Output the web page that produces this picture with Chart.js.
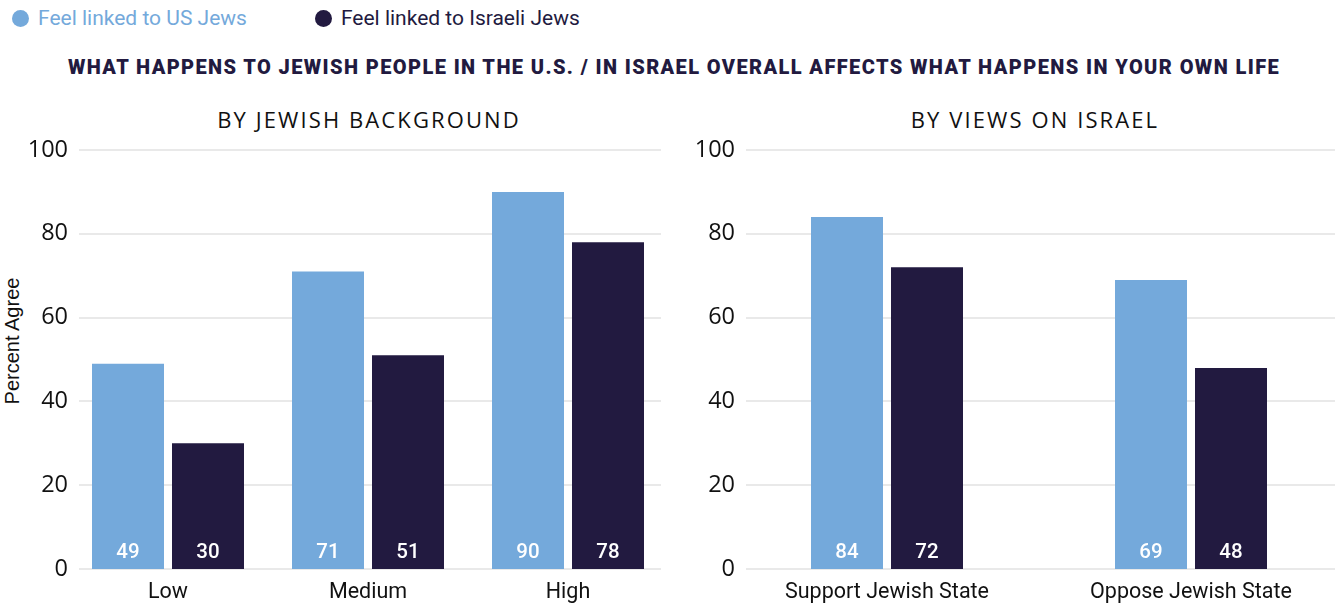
<!DOCTYPE html>
<html>
<head>
<meta charset="utf-8">
<script src="https://cdn.jsdelivr.net/npm/chart.js@4"></script>
<style>
  html, body { margin: 0; padding: 0; background: #fff; overflow: hidden; width: 1335px; height: 606px; }
  .legend { position: absolute; top: 6px; left: 12px; font: 21px Roboto, sans-serif; display: flex; }
  .legend span { display: inline-flex; align-items: center; }
  .legend i { display: inline-block; width: 17px; height: 17px; border-radius: 50%; margin-right: 9px; }
  .title { position: absolute; top: 57px; left: 0; width: 1348px; text-align: center; font: 900 20px/20px Roboto, sans-serif; letter-spacing: 1.4px; color: #221a40; }
  .sub { position: absolute; top: 104px; width: 600px; text-align: center; font: 22px "Open Sans", sans-serif; letter-spacing: 2.1px; color: #111; }
  .ytitle { position: absolute; left: 12px; top: 341px; transform: translate(-50%, -50%) rotate(-90deg); font: 20px/20px "Liberation Sans", sans-serif; color: #111; white-space: nowrap; }
  canvas { position: absolute; top: 100px; }
</style>
</head>
<body>
<div class="legend">
  <span style="color:#74a9db"><i style="background:#74a9db"></i>Feel linked to US Jews</span>
  <span style="color:#221a40; margin-left:68px"><i style="background:#221a40"></i>Feel linked to Israeli Jews</span>
</div>
<div class="title">WHAT HAPPENS TO JEWISH PEOPLE IN THE U.S. / IN ISRAEL OVERALL AFFECTS WHAT HAPPENS IN YOUR OWN LIFE</div>
<div class="sub" style="left:69px">BY JEWISH BACKGROUND</div>
<div class="sub" style="left:735px">BY VIEWS ON ISRAEL</div>
<div class="ytitle">Percent Agree</div>
<canvas id="left" width="700" height="506" style="left:0"></canvas>
<canvas id="right" width="700" height="506" style="left:680px"></canvas>
<script>
const seriesNames = ['Feel linked to US Jews', 'Feel linked to Israeli Jews'];
const colors = ['#74a9db', '#221a40'];

const backgroundLabels = ['Low', 'Medium', 'High'];
const backgroundUS = [49, 71, 90];
const backgroundIsrael = [30, 51, 78];

const viewsLabels = ['Support Jewish State', 'Oppose Jewish State'];
const viewsUS = [84, 69];
const viewsIsrael = [72, 48];

const yTicks = [0, 20, 40, 60, 80, 100];

// white value labels sitting at the foot of each bar
const barLabels = {
  id: 'barLabels',
  afterDatasetsDraw(chart) {
    const ctx = chart.ctx;
    ctx.save();
    ctx.font = '500 20.5px Roboto';
    ctx.fillStyle = '#fff';
    ctx.textAlign = 'center';
    ctx.textBaseline = 'middle';
    chart.data.datasets.forEach((ds, i) => {
      chart.getDatasetMeta(i).data.forEach((bar, j) => {
        ctx.fillText(ds.data[j], bar.x, bar.base - 16);
      });
    });
    ctx.restore();
  }
};

// horizontal gridlines, a little inset from the plot edges
const insetGrid = {
  id: 'insetGrid',
  beforeDatasetsDraw(chart) {
    const ctx = chart.ctx, y = chart.scales.y, a = chart.chartArea;
    ctx.save();
    ctx.strokeStyle = '#e9e9e9';
    ctx.lineWidth = 2;
    y.ticks.forEach(t => {
      const py = Math.round(y.getPixelForValue(t.value));
      ctx.beginPath();
      ctx.moveTo(a.left + 11, py);
      ctx.lineTo(a.right - 7, py);
      ctx.stroke();
    });
    ctx.restore();
  }
};

function makeChart(id, labels, us, israel, opts) {
  return new Chart(document.getElementById(id), {
    type: 'bar',
    data: {
      labels: labels,
      datasets: [
        { label: seriesNames[0], data: us, backgroundColor: colors[0] },
        { label: seriesNames[1], data: israel, backgroundColor: colors[1] }
      ]
    },
    options: {
      responsive: false,
      animation: false,
      categoryPercentage: opts.catPct,
      barPercentage: 0.9,
      layout: { padding: { top: 50, right: opts.padRight, bottom: 0, left: 0 } },
      plugins: { legend: { display: false }, tooltip: { enabled: false } },
      scales: {
        x: {
          grid: { display: false },
          border: { display: false },
          ticks: { color: '#111', font: { family: 'Roboto', size: 21.5 }, padding: 3, maxRotation: 0 },
          afterFit(s) { s.height = 37; }
        },
        y: {
          min: 0, max: 100,
          afterBuildTicks(s) { s.ticks = yTicks.map(v => ({ value: v })); },
          grid: { display: false },
          border: { display: false },
          ticks: { color: '#111', font: { family: 'Open Sans', size: 23.5 }, padding: opts.tickPad },
          afterFit(s) { s.width = opts.yWidth; }
        }
      }
    },
    plugins: [insetGrid, barLabels]
  });
}

makeChart('left', backgroundLabels, backgroundUS, backgroundIsrael,
  { catPct: 160 / 200, padRight: 32, yWidth: 68, tickPad: -8 });
makeChart('right', viewsLabels, viewsUS, viewsIsrael,
  { catPct: 160 / 304, padRight: 37, yWidth: 55, tickPad: -8 });
</script>
</body>
</html>
